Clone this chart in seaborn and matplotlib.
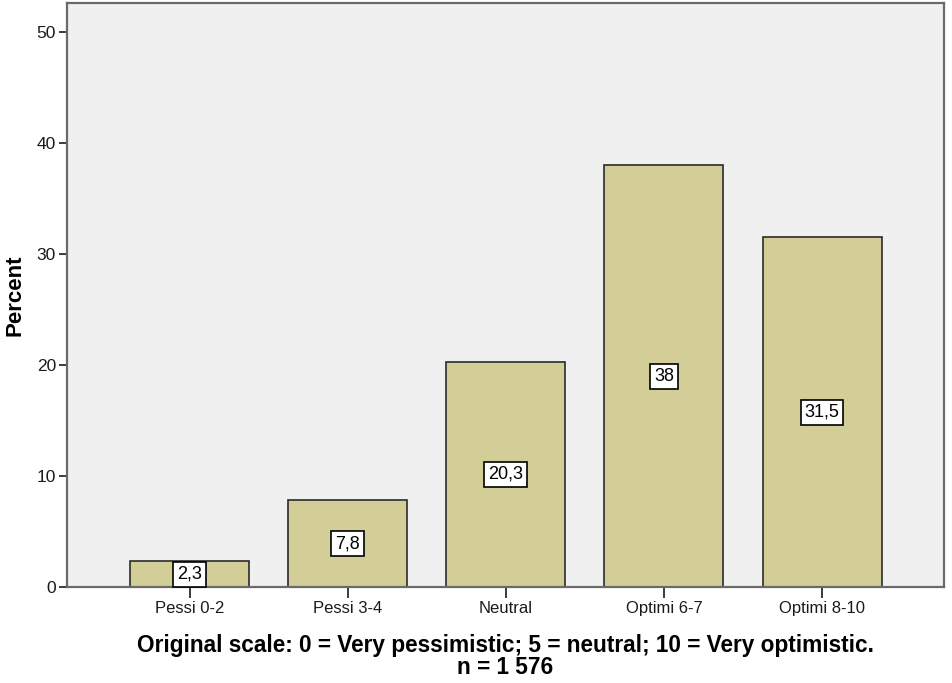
import matplotlib
matplotlib.use("Agg")
import matplotlib.pyplot as plt
import seaborn as sns
import pandas as pd

categories = ["Pessi 0-2", "Pessi 3-4", "Neutral", "Optimi 6-7", "Optimi 8-10"]
percent = [2.3, 7.8, 20.3, 38.0, 31.5]
value_labels = ["2,3", "7,8", "20,3", "38", "31,5"]
y_ticks = [0, 10, 20, 30, 40, 50]

sns.set_theme(style="white")
plt.rcParams["font.family"] = ["Liberation Sans", "DejaVu Sans"]

df = pd.DataFrame({"category": categories, "percent": percent})

fig = plt.figure(figsize=(9.52, 6.83), dpi=100)
ax = fig.add_axes([0.0704, 0.1406, 0.921, 0.855])
ax.set_facecolor("#F0F0F0")

sns.barplot(data=df, x="category", y="percent", order=categories,
            color="#D3CE97", saturation=1, width=0.753,
            edgecolor="#2b2b2b", linewidth=1.2, ax=ax, zorder=2)

# value boxes at the middle of each bar
for i, (v, lab) in enumerate(zip(percent, value_labels)):
    ax.text(i, v / 2, lab, ha="center", va="center", fontsize=13, color="black",
            zorder=5,
            bbox=dict(boxstyle="square,pad=0.22", facecolor="white",
                      edgecolor="black", linewidth=1.2))

ax.set_xlim(-0.775, 4.77)
ax.set_ylim(0, 52.6)
ax.set_yticks(y_ticks)
ax.set_yticklabels([str(t) for t in y_ticks], fontsize=12.5, color="#1a1a1a")
ax.tick_params(axis="x", labelsize=12, colors="#1a1a1a", length=8, width=1.2,
               direction="out", bottom=True, pad=2)
ax.tick_params(axis="y", length=6, width=1.2, direction="out", left=True, pad=2,
               colors="#1a1a1a")
for s in ax.spines.values():
    s.set_color("#6a6a6a")
    s.set_linewidth(1.6)
    s.set_visible(True)

ax.set_ylabel("Percent", fontsize=16, fontweight="bold", labelpad=8, color="black")
ax.set_xlabel("Original scale: 0 = Very pessimistic; 5 = neutral; 10 = Very optimistic.\nn = 1 576",
              fontsize=16.3, fontweight="bold", labelpad=13, linespacing=0.95,
              color="black")

fig.savefig("out.png", dpi=100, facecolor="white")
